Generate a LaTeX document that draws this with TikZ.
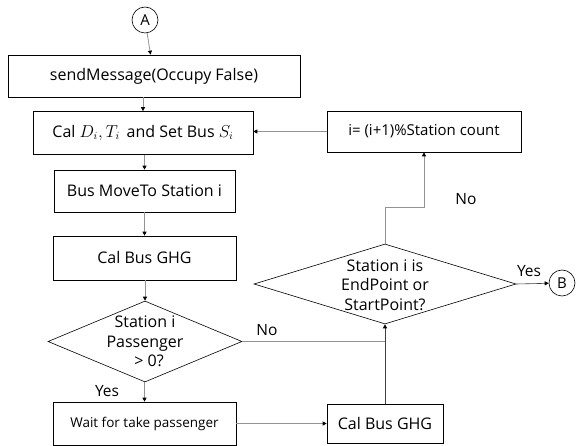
\documentclass[tikz,border=0pt]{standalone}
\usepackage{fontspec}
\setmainfont{Open Sans}
\usetikzlibrary{shapes.geometric,arrows.meta}
\begin{document}
\begin{tikzpicture}[x=1pt,y=-1pt,
  box/.style={draw=black,line width=0.6pt,rectangle,inner sep=0pt,font=\fontsize{16}{19}\selectfont},
  conn/.style={draw=black,line width=0.6pt,circle,inner sep=0pt,minimum size=26pt,font=\fontsize{15}{17}\selectfont},
  decide/.style={draw=black,line width=0.6pt,diamond,inner sep=0pt},
  decidetext/.style={align=center,inner sep=0pt,font=\fontsize{16}{19.5}\selectfont},
  flow/.style={draw=gray!85,line width=0.8pt,-{Triangle[length=4pt,width=4pt,black]}},
  flowdark/.style={draw=black!75,line width=0.6pt,-{Triangle[length=4pt,width=4pt,black]}},
  line/.style={draw=gray!85,line width=0.8pt},
  lbl/.style={font=\fontsize{15.5}{17}\selectfont,inner sep=0pt}]
\useasboundingbox[fill=white] (0,0) rectangle (579,446);

\node[conn] (A) at (145,20) {A};
\node[box,minimum width=292pt,minimum height=42pt] (send) at (154,76) {sendMessage(Occupy False)};
\node[box,minimum width=220pt,minimum height=43pt] (cal) at (143,133) {Cal $D_i,T_i$\, and Set Bus $S_i$};
\node[box,minimum width=181pt,minimum height=42pt] (move) at (144.5,191) {Bus MoveTo Station i};
\node[box,minimum width=183pt,minimum height=44pt] (ghgA) at (144.5,258) {Cal Bus GHG};
\node[decide,minimum width=194pt,minimum height=81pt] (pass) at (145,341.5) {};
\node[decidetext] (passtxt) at (pass.center) {Station i\\Passenger\\\,\,\,> 0?};
\node[box,minimum width=183pt,minimum height=43pt,font=\fontsize{13.5}{15}\selectfont] (wait) at (144.5,423.5) {Wait for take passenger};
\node[box,minimum width=116pt,minimum height=39pt] (ghgB) at (385,423.5) {Cal Bus GHG};
\node[decide,minimum width=262pt,minimum height=80pt] (ends) at (385,284) {};
\node[decidetext] (endstxt) at (385,285) {Station i is\\EndPoint or\\StartPoint?};
\node[conn] (B) at (562,283) {B};
\node[box,minimum width=194pt,minimum height=41pt,font=\fontsize{15}{17}\selectfont] (inc) at (424,131.5) {i= (i+1)\%Station count};

\coordinate (join) at (385,341.5);
\coordinate (bend1) at (385,207);
\coordinate (bend2) at (424,207);

\draw[flow] (A) -- (send);
\draw[flow] (send.south -| cal.north) -- (cal.north);
\draw[flow] (cal.south -| move.north) -- (move.north);
\draw[flow] (move) -- (ghgA);
\draw[flow] (ghgA.south -| pass.north) -- (pass.north);
\draw[flow] (pass.south -| wait.north) -- (wait.north);
\draw[flow] (wait) -- (ghgB);
\draw[line] (pass.east) -- (join);
\draw[flowdark] (ghgB) -- (ends.south);
\draw[flowdark] (ends.east) -- (B);
\draw[flow] (ends.north) -- (bend1) -- (bend2) -- (inc.south);
\draw[flow] (inc.west) -- (inc.west -| cal.east);

\node[lbl] at (107,391) {Yes};
\node[lbl] at (267,330) {No};
\node[lbl] at (466,199) {No};
\node[lbl] at (529,271) {Yes};
\end{tikzpicture}
\end{document}
